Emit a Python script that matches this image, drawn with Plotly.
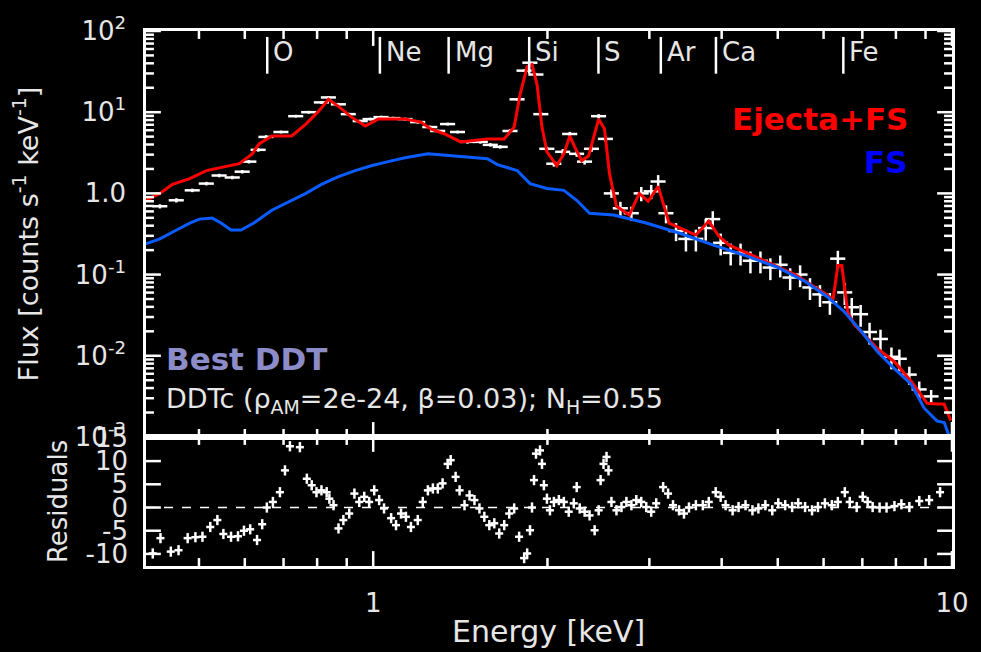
import numpy as np
import plotly.graph_objects as go

# ---------------- data ----------------
# Ejecta+FS model (red)
model_energy = [0.405, 0.428, 0.450, 0.482, 0.515, 0.553, 0.587, 0.618, 0.635, 0.668,
                0.723, 0.765, 0.805, 0.837, 0.871, 0.917, 0.969, 1.020, 1.135, 1.209,
                1.257, 1.329, 1.416, 1.575, 1.684, 1.752, 1.794, 1.845, 1.881, 1.919,
                1.957, 1.996, 2.076, 2.135, 2.186, 2.229, 2.292, 2.356, 2.452, 2.510,
                2.560, 2.632, 2.770, 2.882, 2.986, 3.107, 3.245, 3.610, 3.800, 3.954,
                4.113, 4.703, 5.358, 6.105, 6.227, 6.350, 6.451, 6.605, 6.790, 7.437,
                7.953, 8.506, 9.060, 9.425, 9.690, 9.950]
model_flux = [0.822, 1.0, 1.29, 1.52, 1.91, 2.13, 2.32, 3.07, 4.07, 5.1,
              5.1, 7.14, 10.3, 14.4, 11.8, 8.69, 6.75, 8.22, 8.22, 7.55,
              6.21, 5.39, 4.31, 4.69, 4.69, 6.56, 16.6, 36.4, 38.5, 21.9,
              6.56, 3.25, 2.19, 3.07, 5.1, 3.74, 2.53, 2.91, 8.22, 6.21,
              1.75, 0.694, 0.540, 1.0, 0.798, 1.22, 0.431, 0.307, 0.456, 0.298,
              0.232, 0.152, 0.100, 0.0555, 0.0482, 0.129, 0.129, 0.0344, 0.0239, 0.0122,
              0.00845, 0.00482, 0.0026, 0.00254, 0.00254, 0.0016]

# FS model (blue)
fs_energy = [0.405, 0.428, 0.454, 0.482, 0.501, 0.527, 0.546, 0.568, 0.591, 0.622,
             0.668, 0.715, 0.765, 0.814, 0.871, 0.931, 0.992, 1.061, 1.135, 1.243,
             1.382, 1.575, 1.639, 1.773, 1.866, 1.996, 2.135, 2.247, 2.365, 2.601,
             2.963, 3.376, 3.861, 4.398, 5.010, 5.574, 6.105, 6.528, 6.983, 7.437,
             7.953, 8.506, 8.954, 9.425, 9.700, 9.950]
fs_flux = [0.239, 0.275, 0.344, 0.431, 0.482, 0.496, 0.431, 0.354, 0.354, 0.431,
           0.621, 0.798, 1.0, 1.29, 1.61, 1.91, 2.19, 2.46, 2.75, 3.07,
           2.91, 2.67, 2.26, 1.91, 1.32, 1.15, 1.09, 0.822, 0.570, 0.540,
           0.431, 0.325, 0.232, 0.171, 0.122, 0.0822, 0.0525, 0.0344, 0.0196, 0.0112,
           0.00694, 0.00443, 0.00226, 0.00157, 0.00150, 0.00090]

# observed spectrum (white crosses)
data_energy = [0.428, 0.457, 0.487, 0.515, 0.542, 0.571, 0.594, 0.610, 0.633, 0.653,
               0.693, 0.735, 0.774, 0.814, 0.837, 0.871, 0.906, 0.950, 0.988, 1.032,
               1.082, 1.135, 1.194, 1.253, 1.293, 1.345, 1.399, 1.455, 1.532, 1.594,
               1.658, 1.724, 1.773, 1.823, 1.866, 1.911, 1.949, 1.996, 2.052, 2.126,
               2.186, 2.247, 2.319, 2.384, 2.452, 2.520, 2.580, 2.674, 2.793, 2.905,
               3.022, 3.107, 3.206, 3.336, 3.470, 3.610, 3.754, 3.861, 3.984, 4.146,
               4.312, 4.485, 4.667, 4.855, 5.049, 5.253, 5.465, 5.684, 5.914, 6.152,
               6.350, 6.528, 6.711, 6.953, 7.204, 7.524, 7.859, 8.111, 8.439, 8.779,
               9.204]
data_flux = [0.694, 0.822, 1.09, 1.32, 1.66, 1.57, 1.85, 2.46, 3.44, 4.96,
             5.70, 8.93, 10.0, 13.2, 15.2, 12.5, 9.46, 7.77, 8.22, 8.69,
             8.45, 8.22, 7.55, 6.56, 5.87, 7.14, 5.70, 4.31, 4.31, 3.96,
             3.74, 5.87, 14.4, 32.5, 40.7, 29.1, 9.46, 3.54, 2.32, 3.25,
             5.39, 3.07, 2.46, 3.54, 8.93, 4.69, 1.0, 0.656, 0.570, 1.0,
             1.06, 1.40, 0.570, 0.344, 0.275, 0.275, 0.374, 0.482, 0.246, 0.185,
             0.185, 0.148, 0.148, 0.122, 0.132, 0.0919, 0.100, 0.0694, 0.0570, 0.0456,
             0.157, 0.0603, 0.0396, 0.0325, 0.0196, 0.0161, 0.00972, 0.00918, 0.00586, 0.00385,
             0.00316]
data_err_rel = [0.06, 0.06, 0.05, 0.05, 0.05, 0.05, 0.05, 0.05, 0.05, 0.05,
                0.04, 0.04, 0.04, 0.04, 0.04, 0.04, 0.04, 0.04, 0.04, 0.04,
                0.04, 0.04, 0.04, 0.04, 0.04, 0.04, 0.04, 0.05, 0.05, 0.05,
                0.05, 0.05, 0.04, 0.03, 0.03, 0.03, 0.05, 0.06, 0.08, 0.08,
                0.06, 0.08, 0.08, 0.08, 0.06, 0.08, 0.12, 0.20, 0.20, 0.20,
                0.20, 0.20, 0.25, 0.25, 0.30, 0.30, 0.30, 0.25, 0.30, 0.30,
                0.30, 0.30, 0.30, 0.30, 0.30, 0.30, 0.30, 0.30, 0.30, 0.30,
                0.25, 0.30, 0.30, 0.30, 0.30, 0.30, 0.30, 0.30, 0.25, 0.25,
                0.20]

# residuals (bottom panel)
resid_energy = [0.416, 0.429, 0.447, 0.461, 0.478, 0.493, 0.507, 0.523, 0.538, 0.551,
                0.568, 0.584, 0.598, 0.613, 0.630, 0.643, 0.655, 0.671, 0.690, 0.704,
                0.718, 0.747, 0.768, 0.783, 0.798, 0.814, 0.831, 0.840, 0.854, 0.871,
                0.888, 0.909, 0.928, 0.946, 0.965, 0.984, 1.004, 1.024, 1.044, 1.074,
                1.095, 1.117, 1.139, 1.162, 1.194, 1.218, 1.243, 1.268, 1.293, 1.318,
                1.345, 1.361, 1.388, 1.410, 1.438, 1.467, 1.496, 1.526, 1.556, 1.587,
                1.619, 1.651, 1.684, 1.718, 1.752, 1.787, 1.823, 1.845, 1.866, 1.881,
                1.896, 1.911, 1.942, 1.957, 1.972, 1.996, 2.020, 2.052, 2.093, 2.135,
                2.177, 2.221, 2.247, 2.274, 2.319, 2.365, 2.413, 2.452, 2.471, 2.500,
                2.530, 2.550, 2.580, 2.632, 2.685, 2.738, 2.793, 2.848, 2.905, 2.963,
                3.022, 3.083, 3.169, 3.232, 3.296, 3.376, 3.443, 3.512, 3.610, 3.711,
                3.800, 3.906, 3.984, 4.063, 4.178, 4.278, 4.398, 4.521, 4.629, 4.759,
                4.892, 5.010, 5.150, 5.294, 5.423, 5.574, 5.730, 5.867, 6.031, 6.200,
                6.350, 6.528, 6.658, 6.845, 7.010, 7.150, 7.293, 7.497, 7.707, 7.953,
                8.176, 8.439, 8.779, 9.131, 9.537]
resid_value = [-9.9, -6.6, -9.5, -9.2, -6.6, -6.4, -6.3, -4.2, -2.7, -5.7,
               -6.3, -6.2, -5.0, -4.7, -7.0, -3.6, 0.0, 1.2, 3.3, 8.0,
               13.2, 13.0, 6.2, 4.8, 3.3, 3.7, 3.3, 1.9, 0.5, -4.5,
               -2.7, -1.3, 3.0, 1.2, 2.3, 1.2, 3.7, 1.6, -0.2, -2.3,
               -3.8, -1.3, -2.0, -4.2, -2.7, 1.2, 3.7, 4.1, 4.1, 5.2,
               9.4, 10.2, 6.6, 3.7, 0.5, 2.6, 1.6, -0.2, -2.0, -3.8,
               -3.4, -5.6, -3.8, -1.3, -0.2, -6.3, -10.9, -9.9, -4.9, 0.0,
               5.9, 11.6, 12.3, 9.4, 4.8, 1.9, -0.6, 1.2, 1.6, 1.2,
               -0.9, 0.9, 4.4, -0.2, -0.9, -1.7, -4.9, -0.6, 5.9, 9.4,
               10.9, 8.0, 1.2, -0.6, 0.1, 1.2, 0.5, 1.6, 1.2, 0.1,
               -0.9, 0.9, 4.4, 3.0, 0.5, -0.6, -1.3, 0.0, 0.5, 0.5,
               1.2, 3.3, 2.3, 0.5, -0.6, 0.1, 0.5, -0.6, -0.2, 0.5,
               -0.6, 0.9, 0.5, 0.1, 0.9, 0.1, -0.6, 0.1, 0.9, 0.5,
               1.2, 3.3, 1.2, 0.1, 2.3, 1.2, 0.1, 0.0, 0.0, 0.3,
               0.7, 0.1, 1.4, 1.6, 3.3]

# line identifications
element_names = ["O", "Ne", "Mg", "Si", "S", "Ar", "Ca", "Fe"]
element_energy = [0.656, 1.027, 1.35, 1.86, 2.45, 3.14, 3.91, 6.49]

# ticks
x_tickvals = [1, 10]
x_ticktext = ["1", "10"]
x_minor_vals = [0.5, 0.6, 0.7, 0.8, 0.9, 2, 3, 4, 5, 6, 7, 8, 9]
y_tickvals = [1e-3, 1e-2, 1e-1, 1, 10, 100]
y_ticktext = ["10<sup>-3</sup>", "10<sup>-2</sup>", "10<sup>-1</sup>", "1.0",
              "10<sup>1</sup>", "10<sup>2</sup>"]
y_minor_mult = [2, 3, 4, 5, 6, 7, 8, 9]
r_tickvals = [-10, -5, 0, 5, 10, 15]
r_ticktext = ["-10", "-5", "0", "5", "10", "15"]

# ---------------- figure ----------------
FONT = "DejaVu Sans"
TXT = "#e6e6e6"
W, H = 981, 652
MARGIN = dict(l=146, r=23, t=27, b=86)
SPLIT = 0.2412
MAJOR_LEN, MINOR_LEN, TICK_W = 15, 8, 2.5

plot_w = W - MARGIN["l"] - MARGIN["r"]
plot_h = H - MARGIN["t"] - MARGIN["b"]
top_h = plot_h * (1 - SPLIT)
bot_h = plot_h * SPLIT

y_minor_vals = [m * d for d in y_tickvals[:-1] for m in y_minor_mult]

fig = go.Figure()

d_e = np.array(data_energy)
d_f = np.array(data_flux)
d_err = d_f * np.array(data_err_rel)
fig.add_trace(go.Scatter(
    x=d_e, y=d_f, mode="markers", xaxis="x", yaxis="y",
    marker=dict(size=2, color="white"),
    error_x=dict(type="percent", value=3.0, color="white", thickness=2.5, width=0),
    error_y=dict(type="data", array=d_err, arrayminus=d_err, color="white",
                 thickness=2.5, width=0),
    showlegend=False, hoverinfo="skip"))

fig.add_trace(go.Scatter(x=model_energy, y=model_flux, mode="lines", xaxis="x", yaxis="y",
                         line=dict(color="#ff0000", width=3), showlegend=False))
fig.add_trace(go.Scatter(x=fs_energy, y=fs_flux, mode="lines", xaxis="x", yaxis="y",
                         line=dict(color="#0a5cff", width=3), showlegend=False))

fig.add_trace(go.Scatter(
    x=resid_energy, y=resid_value, mode="markers", xaxis="x2", yaxis="y2",
    marker=dict(size=2, color="white"),
    error_x=dict(type="percent", value=1.6, color="white", thickness=2.5, width=0),
    error_y=dict(type="constant", value=1.1, color="white", thickness=2.5, width=0),
    showlegend=False, hoverinfo="skip"))

tickfont = dict(family=FONT, size=26, color=TXT)
axis_common = dict(showline=True, linecolor="white", linewidth=2.5, mirror=True,
                   ticks="", showgrid=False, zeroline=False, tickfont=tickfont)

xr = [np.log10(0.405), 1.0]
fig.update_layout(
    width=W, height=H,
    paper_bgcolor="black", plot_bgcolor="black",
    margin=MARGIN,
    xaxis=dict(axis_common, type="log", range=xr, domain=[0, 1], anchor="y",
               tickmode="array", tickvals=x_tickvals, showticklabels=False),
    xaxis2=dict(axis_common, type="log", range=xr, domain=[0, 1], anchor="y2",
                tickmode="array", tickvals=x_tickvals, ticktext=x_ticktext,
                ticklabelstandoff=12),
    yaxis=dict(axis_common, type="log", range=[-3, 2], domain=[SPLIT, 1], anchor="x",
               tickmode="array", tickvals=y_tickvals, ticktext=y_ticktext,
               ticklabelstandoff=12),
    yaxis2=dict(axis_common, range=[-12.6, 15.2], domain=[0, SPLIT], anchor="x2",
                tickmode="array", tickvals=r_tickvals, ticktext=r_ticktext,
                ticklabelstandoff=10),
)

tick_line = dict(color="white", width=TICK_W)
shapes = []


def x_ticks(vals, length, xref, yref, panel_h):
    f = length / panel_h
    for v in vals:
        shapes.append(dict(type="line", xref=xref, x0=v, x1=v, yref=yref,
                           y0=0, y1=f, line=tick_line))
        shapes.append(dict(type="line", xref=xref, x0=v, x1=v, yref=yref,
                           y0=1 - f, y1=1, line=tick_line))


def y_ticks(vals, length, xref, yref):
    f = length / plot_w
    for v in vals:
        shapes.append(dict(type="line", xref=xref, x0=0, x1=f, yref=yref,
                           y0=v, y1=v, line=tick_line))
        shapes.append(dict(type="line", xref=xref, x0=1 - f, x1=1, yref=yref,
                           y0=v, y1=v, line=tick_line))


x_ticks(x_tickvals, MAJOR_LEN, "x", "y domain", top_h)
x_ticks(x_minor_vals, MINOR_LEN, "x", "y domain", top_h)
x_ticks(x_tickvals, MAJOR_LEN, "x2", "y2 domain", bot_h)
x_ticks(x_minor_vals, MINOR_LEN, "x2", "y2 domain", bot_h)
y_ticks(y_tickvals, MAJOR_LEN, "x domain", "y")
y_ticks(y_minor_vals, MINOR_LEN, "x domain", "y")
y_ticks(r_tickvals, MAJOR_LEN, "x2 domain", "y2")

shapes.append(dict(type="line", xref="x2 domain", x0=0, x1=1, yref="y2", y0=0, y1=0,
                   line=dict(color="white", width=1.5, dash="dash")))

annotations = []
for name, e in zip(element_names, element_energy):
    shapes.append(dict(type="line", xref="x", x0=e, x1=e, yref="paper",
                       y0=0.9202, y1=0.9889, line=dict(color="white", width=2.5)))
    annotations.append(dict(x=np.log10(e), xref="x", y=0.961, yref="paper",
                            text=name, showarrow=False, xanchor="left", yanchor="middle",
                            xshift=4, font=dict(family=FONT, size=26, color=TXT)))

annotations += [
    dict(x=0.948, y=0.835, xref="paper", yref="paper", text="<b>Ejecta+FS</b>",
         showarrow=False, xanchor="right", yanchor="middle",
         font=dict(family=FONT, size=31, color="#ff0000")),
    dict(x=0.948, y=0.755, xref="paper", yref="paper", text="<b>FS</b>",
         showarrow=False, xanchor="right", yanchor="middle",
         font=dict(family=FONT, size=31, color="#0000ff")),
    dict(x=0.022, y=0.3878, xref="paper", yref="paper", text="<b>Best DDT</b>",
         showarrow=False, xanchor="left", yanchor="middle",
         font=dict(family=FONT, size=31, color="#8c8cc8")),
    dict(x=0.022, y=0.31, xref="paper", yref="paper",
         text="DDTc (ρ<sub>AM</sub>=2e-24, β=0.03); N<sub>H</sub>=0.55",
         showarrow=False, xanchor="left", yanchor="middle",
         font=dict(family=FONT, size=27, color=TXT)),
    dict(x=0.4988, y=-0.1224, xref="paper", yref="paper", text="Energy [keV]",
         showarrow=False, xanchor="center", yanchor="middle",
         font=dict(family=FONT, size=30, color=TXT)),
    dict(x=-0.149, y=0.6215, xref="paper", yref="paper",
         text="Flux [counts s<sup>-1</sup> keV<sup>-1</sup>]", textangle=-90,
         showarrow=False, xanchor="center", yanchor="middle",
         font=dict(family=FONT, size=27, color=TXT)),
    dict(x=-0.1084, y=0.1206, xref="paper", yref="paper", text="Residuals", textangle=-90,
         showarrow=False, xanchor="center", yanchor="middle",
         font=dict(family=FONT, size=26, color=TXT)),
]
fig.update_layout(shapes=shapes, annotations=annotations)

fig.write_html("out.html", config={"displayModeBar": False},
               post_script="document.body.style.margin='0px';document.body.style.background='black';")
